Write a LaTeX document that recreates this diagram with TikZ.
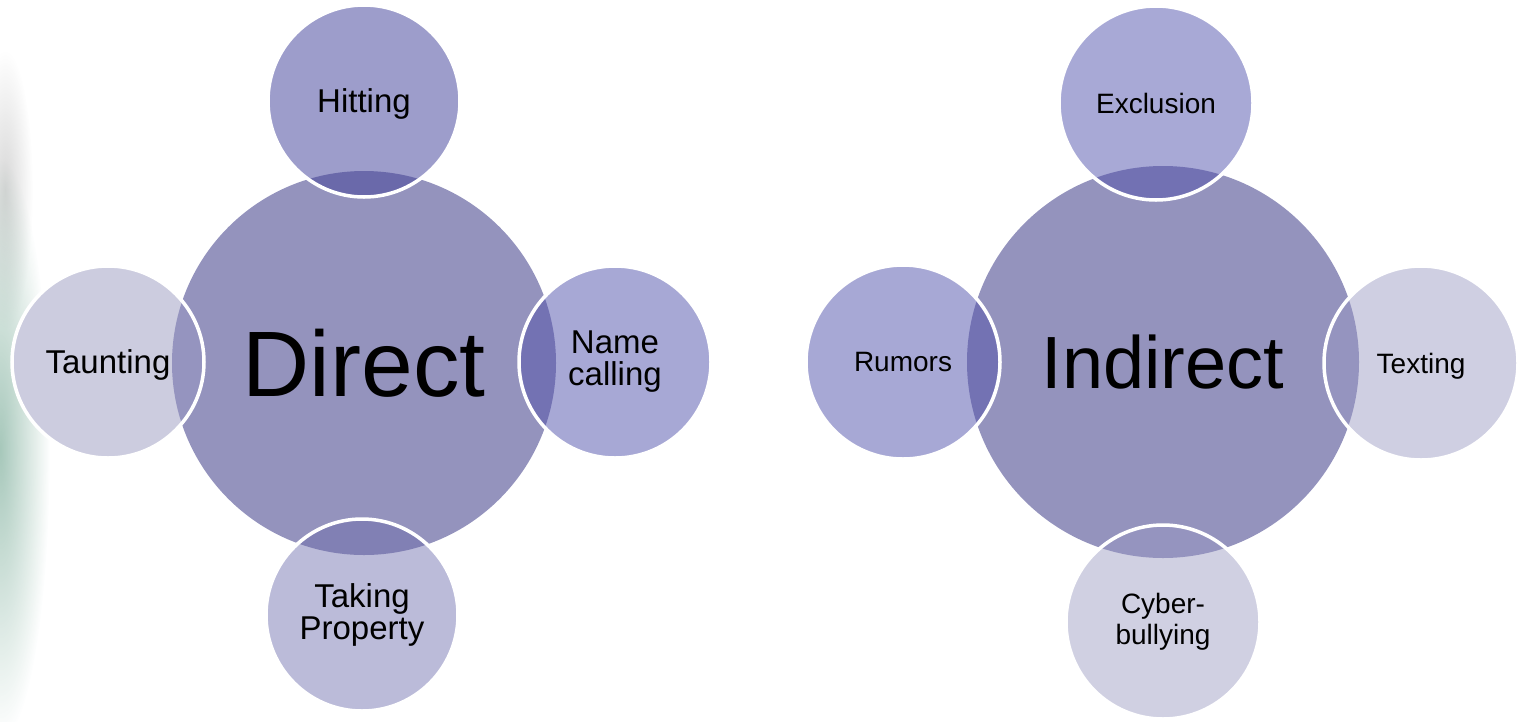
\documentclass[tikz,border=0pt]{standalone}
\usepackage{fontspec}
\setmainfont{Liberation Sans}
\usetikzlibrary{fadings}
\definecolor{hubcol}{HTML}{9493BD}
\definecolor{hitA}{HTML}{9D9DCB}\definecolor{hitB}{HTML}{6A69AA}
\definecolor{nameA}{HTML}{A7A8D5}\definecolor{nameB}{HTML}{7372B3}
\definecolor{tauA}{HTML}{CCCCDF}\definecolor{tauB}{HTML}{9594BF}
\definecolor{takeA}{HTML}{BBBBD9}\definecolor{takeB}{HTML}{8180B4}
\definecolor{excA}{HTML}{A8A9D6}\definecolor{excB}{HTML}{7271B3}
\definecolor{rumA}{HTML}{A7A8D5}\definecolor{rumB}{HTML}{7372B3}
\definecolor{texA}{HTML}{CFCFE2}\definecolor{texB}{HTML}{9594BF}
\definecolor{cybA}{HTML}{D0D0E2}\definecolor{cybB}{HTML}{9594BF}
\definecolor{splat}{HTML}{5E9A82}
\tikzfading[name=softspot, inner color=transparent!0, outer color=transparent!100]
\tikzset{
  hub/.style={circle, inner sep=0pt, fill=hubcol, text=black},
  sat/.style={circle, inner sep=0pt, minimum size=#1, draw=white, line width=3.5pt, align=center, text=black},
  ov/.style n args={3}{path picture={\fill[#2] (#1.center) circle[radius=#3];}},
  leftfont/.style={font=\fontsize{33}{32}\selectfont},
  rightfont/.style={font=\fontsize{28}{31}\selectfont},
  texture/.style={path fading=softspot, fit fading=true},
}
\begin{document}
\begin{tikzpicture}[x=1pt,y=-1pt]
\useasboundingbox (0,0) rectangle (1526,721);
% faint textured strip at the left edge
\fill[gray!70, opacity=0.45, texture] (5,190) ellipse (28pt and 140pt);
\fill[splat, opacity=0.55, texture] (0,450) ellipse (50pt and 290pt);

% hubs
\node[hub, minimum size=384pt, font=\fontsize{93}{93}\selectfont, text depth=0pt] (D) at (364,363) {Direct};
\node[hub, minimum size=392pt, font=\fontsize{74}{74}\selectfont, text depth=0pt] (I) at (1163,362) {Indirect};

% left satellites
\node[sat=192pt, fill=hitA, ov={D}{hitB}{192pt}, leftfont, text depth=0pt] (hit) at (364,101) {Hitting};
\node[sat=192pt, fill=tauA, ov={D}{tauB}{192pt}, leftfont, text depth=0pt] (tau) at (108,362) {Taunting};
\node[sat=192pt, fill=nameA, ov={D}{nameB}{192pt}, leftfont] (nam) at (615,362) {Name\\calling};
\node[sat=192pt, fill=takeA, ov={D}{takeB}{192pt}, leftfont] (tak) at (362,615) {Taking\\Property};

% right satellites
\node[sat=194pt, fill=excA, ov={I}{excB}{196pt}, rightfont, text depth=0pt] (exc) at (1156,103) {Exclusion};
\node[sat=194pt, fill=rumA, ov={I}{rumB}{196pt}, rightfont, text depth=0pt] (rum) at (903,362) {Rumors};
\node[sat=194pt, fill=texA, ov={I}{texB}{196pt}, rightfont, text depth=0pt] (tex) at (1421,363) {Texting};
\node[sat=194pt, fill=cybA, ov={I}{cybB}{196pt}, rightfont] (cyb) at (1163,622) {Cyber-\\bullying};
\end{tikzpicture}
\end{document}
